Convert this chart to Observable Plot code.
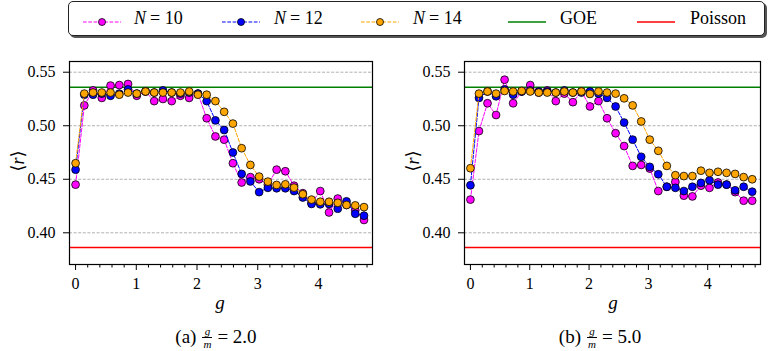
<!DOCTYPE html>
<html><head><meta charset="utf-8">
<script src="https://cdn.jsdelivr.net/npm/d3@7"></script>
<script src="https://cdn.jsdelivr.net/npm/@observablehq/plot@0.6"></script>
<style>
body{margin:0;background:#fff;}
#root{position:relative;width:768px;height:351px;overflow:hidden;font-family:"Liberation Serif","DejaVu Serif",serif;color:#000;}
#root svg, #root svg text{font-family:"Liberation Serif","DejaVu Serif",serif !important;}
.legend{position:absolute;left:68px;top:1px;width:695px;height:33px;border:1px solid #222;border-radius:5px;background:#fff;box-shadow:2px 2px 0 #555;}
.item{position:absolute;top:0;height:33px;display:flex;align-items:center;font-size:18px;white-space:nowrap;}
.item i{margin-right:4px;}
.sw{position:absolute;top:11px;}
.cap{position:absolute;width:240px;display:flex;justify-content:center;align-items:center;font-size:19px;white-space:nowrap;height:26px;}
.frac{display:flex;flex-direction:column;align-items:center;font-style:italic;font-size:11px;margin:0 5px 0 6px;}
.frac span{display:block;padding:0 1px;line-height:12px;height:12px;}
.frac .den{border-top:0.9px solid #000;}
.ylab{position:absolute;font-size:18px;transform:rotate(-90deg);transform-origin:center;white-space:nowrap;width:40px;text-align:center;}
.xlab{position:absolute;font-size:19px;font-style:italic;width:20px;text-align:center;}
</style></head><body><div id="root"></div>
<script>
// g values (shared by both panels)
const gVals = [0.000,0.144,0.288,0.432,0.576,0.720,0.864,1.008,1.152,1.295,1.439,1.583,1.727,1.871,2.015,2.159,2.303,2.447,2.591,2.735,2.879,3.023,3.167,3.311,3.455,3.598,3.742,3.886,4.030,4.174,4.318,4.462,4.606,4.750];

// Panel (a): g/m = 2.0
const a_N10 = [0.445,0.519,0.533,0.526,0.5375,0.538,0.539,0.528,0.532,0.523,0.525,0.523,0.528,0.526,0.530,0.507,0.490,0.487,0.465,0.447,0.452,0.450,0.445,0.459,0.4575,0.444,0.437,0.428,0.439,0.419,0.432,0.426,0.421,0.412];
const a_N12 = [0.459,0.529,0.529,0.530,0.528,0.530,0.534,0.530,0.532,0.531,0.533,0.531,0.530,0.531,0.530,0.523,0.505,0.496,0.475,0.455,0.448,0.438,0.442,0.4416,0.4416,0.439,0.433,0.427,0.4266,0.427,0.4225,0.4294,0.4178,0.416];
const a_N14 = [0.465,0.530,0.531,0.531,0.531,0.529,0.531,0.530,0.532,0.531,0.531,0.531,0.531,0.532,0.529,0.529,0.523,0.513,0.502,0.479,0.4634,0.4525,0.4478,0.4447,0.4453,0.4422,0.436,0.431,0.429,0.429,0.428,0.426,0.4256,0.424];

// Panel (b): g/m = 5.0
const b_N10 = [0.431,0.495,0.521,0.510,0.543,0.521,0.532,0.538,0.531,0.533,0.523,0.530,0.522,0.532,0.518,0.523,0.507,0.493,0.481,0.4625,0.4634,0.460,0.439,0.443,0.4475,0.4347,0.434,0.444,0.442,0.447,0.445,0.438,0.430,0.430];
const b_N12 = [0.4444,0.526,0.532,0.5275,0.534,0.529,0.532,0.533,0.532,0.532,0.531,0.533,0.531,0.531,0.532,0.530,0.526,0.518,0.503,0.487,0.471,0.4616,0.4547,0.443,0.442,0.439,0.443,0.4466,0.449,0.445,0.445,0.4397,0.443,0.4384];
const b_N14 = [0.4603,0.530,0.532,0.530,0.5325,0.532,0.5325,0.532,0.531,0.531,0.531,0.532,0.531,0.532,0.5297,0.532,0.531,0.530,0.5256,0.519,0.504,0.487,0.4766,0.4625,0.4538,0.453,0.453,0.458,0.456,0.457,0.456,0.455,0.452,0.450];

const GOE = 0.5359;
const POISSON = 0.3863;
const yTicks = [0.40, 0.45, 0.50, 0.55];
const xMajor = [0, 1, 2, 3, 4];
const xMinor = [0.2,0.4,0.6,0.8,1.2,1.4,1.6,1.8,2.2,2.4,2.6,2.8,3.2,3.4,3.6,3.8,4.2,4.4,4.6,4.8];
const seriesColors = ["#ff00ff", "#0000ff", "#ffa500"];

function rows(arr) { return gVals.map((g, i) => ({g, r: arr[i]})); }

function panel(series, width, marginLeft, marginRight) {
  const marks = [
    Plot.ruleY(yTicks, {stroke: "#a8a8a8", strokeWidth: 0.9, strokeDasharray: "3,1.6"}),
    Plot.ruleY([GOE], {stroke: "green", strokeWidth: 1.5}),
    Plot.ruleY([POISSON], {stroke: "red", strokeWidth: 1.5})
  ];
  series.forEach((arr, k) => {
    const d = rows(arr);
    marks.push(Plot.line(d, {x: "g", y: "r", stroke: seriesColors[k], strokeWidth: 1, strokeDasharray: "3.7,1.6"}));
    marks.push(Plot.dot(d, {x: "g", y: "r", r: 3.9, fill: seriesColors[k], stroke: "black", strokeWidth: 0.8}));
  });
  marks.push(
    Plot.frame({stroke: "black", strokeWidth: 1.2}),
    Plot.axisY({ticks: yTicks, tickFormat: d3.format(".2f"), tickSize: 6, tickPadding: 8, label: null}),
    Plot.axisX({ticks: xMajor, tickFormat: d3.format("d"), tickSize: 6, tickPadding: 7, label: null}),
    Plot.axisX({ticks: xMinor, tickFormat: () => "", tickSize: 3.5, label: null})
  );
  return Plot.plot({
    width, height: 300,
    marginTop: 61, marginBottom: 36, marginLeft, marginRight,
    x: {domain: [-0.1, 4.89]},
    y: {domain: [0.3704, 0.560]},
    style: {fontFamily: "Liberation Serif, serif", fontSize: "16px", color: "black", background: "transparent", overflow: "visible"},
    marks
  });
}

const root = document.getElementById("root");

const left = panel([a_N10, a_N12, a_N14], 384, 69, 12);
left.style.position = "absolute"; left.style.left = "0px"; left.style.top = "0px";
root.appendChild(left);

const right = panel([b_N10, b_N12, b_N14], 374, 70, 8);
right.style.position = "absolute"; right.style.left = "394px"; right.style.top = "0px";
root.appendChild(right);

// Legend
const legend = document.createElement("div");
legend.className = "legend";
root.appendChild(legend);
function swatch(color, dashed, marker) {
  return `<svg width="38" height="10" style="overflow:visible"><line x1="0" y1="5" x2="38" y2="5" stroke="${color}" stroke-width="${dashed ? 1 : 1.5}" ${dashed ? 'stroke-dasharray="3.7,1.6"' : ""}/>` +
    (marker ? `<circle cx="19" cy="5" r="3.5" fill="${color}" stroke="black" stroke-width="0.8"/>` : "") + `</svg>`;
}
const legendItems = [
  {label: "<i>N</i>= 10", color: seriesColors[0], dashed: true, marker: true, sx: 83, tx: 134},
  {label: "<i>N</i>= 12", color: seriesColors[1], dashed: true, marker: true, sx: 222, tx: 274},
  {label: "<i>N</i>= 14", color: seriesColors[2], dashed: true, marker: true, sx: 361, tx: 413},
  {label: "GOE", color: "green", dashed: false, marker: false, sx: 508, tx: 560},
  {label: "Poisson", color: "red", dashed: false, marker: false, sx: 637, tx: 690}
];
legendItems.forEach(it => {
  const s = document.createElement("div");
  s.className = "sw"; s.style.left = (it.sx - 69) + "px";
  s.innerHTML = swatch(it.color, it.dashed, it.marker);
  legend.appendChild(s);
  const t = document.createElement("div");
  t.className = "item"; t.style.left = (it.tx - 69) + "px";
  t.innerHTML = it.label;
  legend.appendChild(t);
});

// Axis labels and captions
function addHTML(cls, html, styles) {
  const d = document.createElement("div");
  d.className = cls; d.innerHTML = html;
  Object.assign(d.style, styles);
  root.appendChild(d);
}
addHTML("ylab", "⟨<i>r</i>⟩", {left: "-2px", top: "150px"});
addHTML("ylab", "⟨<i>r</i>⟩", {left: "393px", top: "150px"});
addHTML("xlab", "g", {left: "210px", top: "292px"});
addHTML("xlab", "g", {left: "603px", top: "292px"});
addHTML("cap", '<span>(a)</span><span class="frac"><span>g</span><span class="den">m</span></span><span>= 2.0</span>', {left: "96px", top: "324px"});
addHTML("cap", '<span>(b)</span><span class="frac"><span>g</span><span class="den">m</span></span><span>= 5.0</span>', {left: "480px", top: "324px"});
</script>
</body></html>
